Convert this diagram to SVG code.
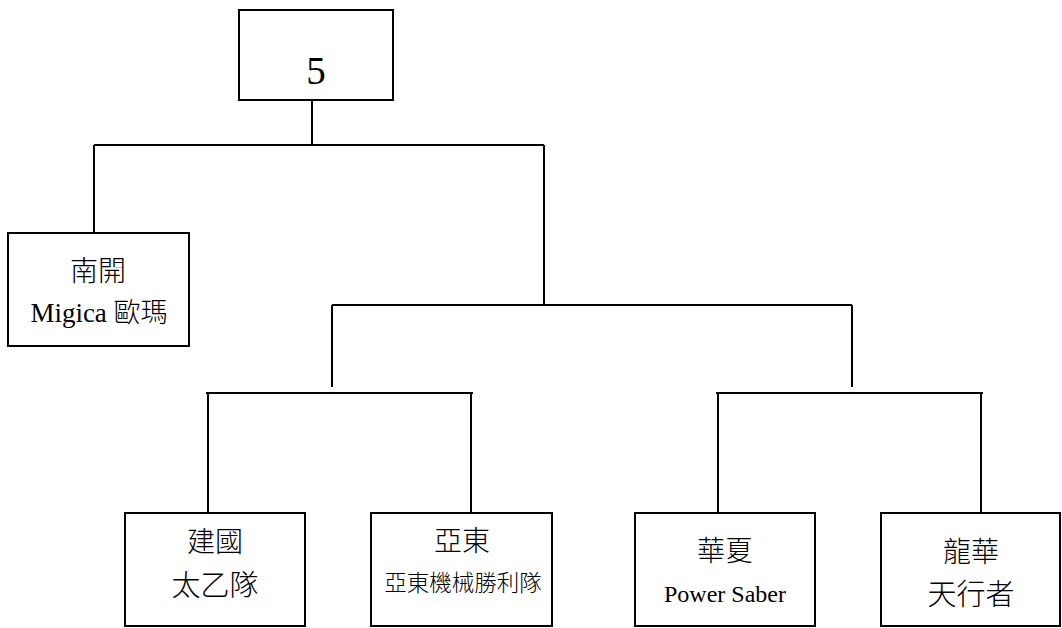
<svg xmlns="http://www.w3.org/2000/svg" width="1062" height="628" viewBox="0 0 1062 628">
<style>
.box{fill:#fff;stroke:#000;stroke-width:2}
.ln{fill:none;stroke:#000;stroke-width:2}
text{font-family:"Liberation Serif","Noto Sans CJK TC",serif;font-weight:400;fill:#000;text-anchor:middle}
.cjk{font-weight:300}
</style>
<rect width="1062" height="628" fill="#fff"/>
<g id="connectors" class="ln">
<path d="M312,100 V145"/>
<path d="M94,145 H544"/>
<path d="M94,145 V233"/>
<path d="M544,145 V305"/>
<path d="M332,305 H852"/>
<path d="M332,305 V387"/>
<path d="M852,305 V387"/>
<path d="M206,393 H473"/>
<path d="M208,393 V513"/>
<path d="M471,393 V513"/>
<path d="M716,393 H983"/>
<path d="M718,393 V513"/>
<path d="M981,393 V513"/>
</g>
<g id="root">
<rect class="box" x="239" y="10" width="154" height="90"/>
<text x="316" y="84" font-size="39">5</text>
</g>
<g id="nankai">
<rect class="box" x="8" y="233" width="181" height="113"/>
<text class="cjk" x="98" y="281" font-size="28">南開</text>
<text x="99" y="322" font-size="27">Migica <tspan class="cjk">歐瑪</tspan></text>
</g>
<g id="jianguo">
<rect class="box" x="125" y="513" width="180" height="113"/>
<text class="cjk" x="215" y="552" font-size="28">建國</text>
<text class="cjk" x="215" y="596" font-size="29">太乙隊</text>
</g>
<g id="yadong">
<rect class="box" x="371" y="513" width="181" height="113"/>
<text class="cjk" x="462" y="551" font-size="28">亞東</text>
<text class="cjk" x="463" y="591" font-size="22.5">亞東機械勝利隊</text>
</g>
<g id="huaxia">
<rect class="box" x="635" y="513" width="180" height="113"/>
<text class="cjk" x="725" y="561" font-size="28">華夏</text>
<text x="725" y="602" font-size="24">Power Saber</text>
</g>
<g id="longhua">
<rect class="box" x="881" y="513" width="179" height="113"/>
<text class="cjk" x="971" y="562" font-size="28">龍華</text>
<text class="cjk" x="971" y="605" font-size="29">天行者</text>
</g>
</svg>
